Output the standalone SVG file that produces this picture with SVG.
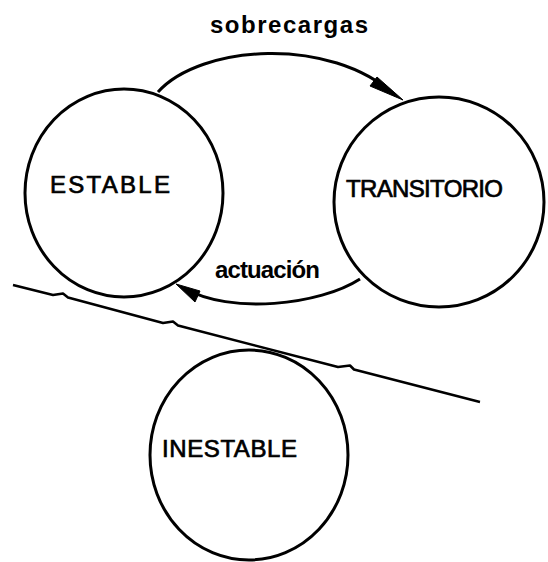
<svg xmlns="http://www.w3.org/2000/svg" width="548" height="562" viewBox="0 0 548 562">
<style>
.st{fill:none;stroke:#000;stroke-width:3}
.ln{fill:none;stroke:#000;stroke-width:2.5;stroke-linejoin:round}
.ah{fill:#000;stroke:#000;stroke-width:1}
.lbl{font-family:"Liberation Sans",Arial,sans-serif;font-size:24px;fill:#000;stroke:#000;stroke-width:0.7}
.edge{font-family:"Liberation Sans",Arial,sans-serif;font-size:24px;font-weight:bold;fill:#000}
</style>
<rect width="548" height="562" fill="#fff"/>
<g id="connectors">
<path class="st" d="M158,92 C200,45 330,35 396,96"/>
<polygon class="ah" points="403,100 370,86 377,77"/>
<text class="edge" x="210" y="33" textLength="158" lengthAdjust="spacing">sobrecargas</text>
<path class="st" d="M360,279 C320,305 230,315 184,288"/>
<polygon class="ah" points="176,284 195,302 200,291"/>
<text class="edge" x="215" y="278" textLength="105" lengthAdjust="spacing">actuación</text>
</g>
<g id="estable">
<ellipse class="st" cx="124" cy="193" rx="99" ry="104"/>
<text class="lbl" x="50" y="193" textLength="120" lengthAdjust="spacing">ESTABLE</text>
</g>
<g id="transitorio">
<ellipse class="st" cx="439" cy="202" rx="105" ry="105"/>
<text class="lbl" x="346" y="197" font-size="22" textLength="157" lengthAdjust="spacing">TRANSITORIO</text>
</g>
<g id="inestable">
<ellipse class="st" cx="249" cy="455" rx="99" ry="105"/>
<text class="lbl" x="162" y="457" textLength="135" lengthAdjust="spacing">INESTABLE</text>
</g>
<g id="boundary">
<path class="ln" d="M13,285 L53,295 l10,-1.5 l5,4 L163,323 l10,-1.5 l5,4 L338,367 l12,-1.5 l4,4 L480,402"/>
</g>
</svg>
